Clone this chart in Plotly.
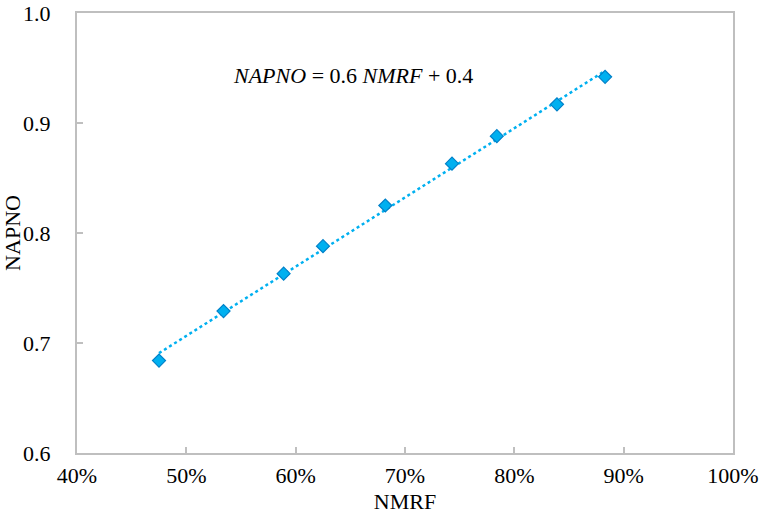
import numpy as np
import plotly.graph_objects as go

# Data
nmrf = [0.475, 0.534, 0.589, 0.625, 0.682, 0.743, 0.784, 0.839, 0.883]
napno = [0.684, 0.729, 0.763, 0.788, 0.825, 0.863, 0.888, 0.917, 0.942]
x_ticks = [0.4, 0.5, 0.6, 0.7, 0.8, 0.9, 1.0]
y_ticks = [0.6, 0.7, 0.8, 0.9, 1.0]
equation = "<i>NAPNO</i> = 0.6 <i>NMRF</i> + 0.4"

# Linear trend line from the data
slope, intercept = np.polyfit(nmrf, napno, 1)
trend_x = [min(nmrf), max(nmrf)]
trend_y = [slope * v + intercept for v in trend_x]

FONT = "Liberation Serif, Times New Roman, serif"
AXIS_COLOR = "#BFBFBF"
FS = 22

fig = go.Figure()
fig.add_trace(go.Scatter(
    x=trend_x, y=trend_y, mode="lines",
    line=dict(color="#00B0F0", width=2.5, dash="dot"),
    showlegend=False, hoverinfo="skip",
))
fig.add_trace(go.Scatter(
    x=nmrf, y=napno, mode="markers",
    marker=dict(symbol="diamond", size=10, color="#00B0F0",
                line=dict(color="#0080C8", width=1.2)),
    showlegend=False,
))

fig.add_annotation(
    x=0.6525, y=0.943, xref="x", yref="y", text=equation, showarrow=False,
    font=dict(family=FONT, size=FS, color="#000000"), xanchor="center", yanchor="middle",
)

fig.update_xaxes(
    range=[0.4, 1.0], tickvals=x_ticks, tickformat=".0%",
    showline=True, linecolor=AXIS_COLOR, linewidth=2, mirror=True,
    ticks="inside", ticklen=6, tickwidth=2, tickcolor=AXIS_COLOR,
    showgrid=False, zeroline=False, automargin=False,
    tickfont=dict(family=FONT, size=FS, color="#000000"),
    ticklabelstandoff=2, ticklabeloverflow="allow",
    title=dict(text="NMRF", font=dict(family=FONT, size=FS, color="#000000"), standoff=6),
)
fig.update_yaxes(
    range=[0.6, 1.0], tickvals=y_ticks, tickformat=".1f",
    showline=True, linecolor=AXIS_COLOR, linewidth=2, mirror=True,
    ticks="inside", ticklen=6, tickwidth=2, tickcolor=AXIS_COLOR,
    showgrid=False, zeroline=False, automargin=False,
    tickfont=dict(family=FONT, size=FS, color="#000000"),
    ticklabelstandoff=20, ticklabeloverflow="allow",
    title=dict(text="NAPNO", font=dict(family=FONT, size=FS, color="#000000"), standoff=2),
)

fig.update_layout(
    width=761, height=517,
    margin=dict(l=77, r=28, t=13, b=64, autoexpand=False),
    paper_bgcolor="white", plot_bgcolor="white",
)

fig.write_html("out.html", config={"displayModeBar": False},
               post_script="document.body.style.margin='0';")
